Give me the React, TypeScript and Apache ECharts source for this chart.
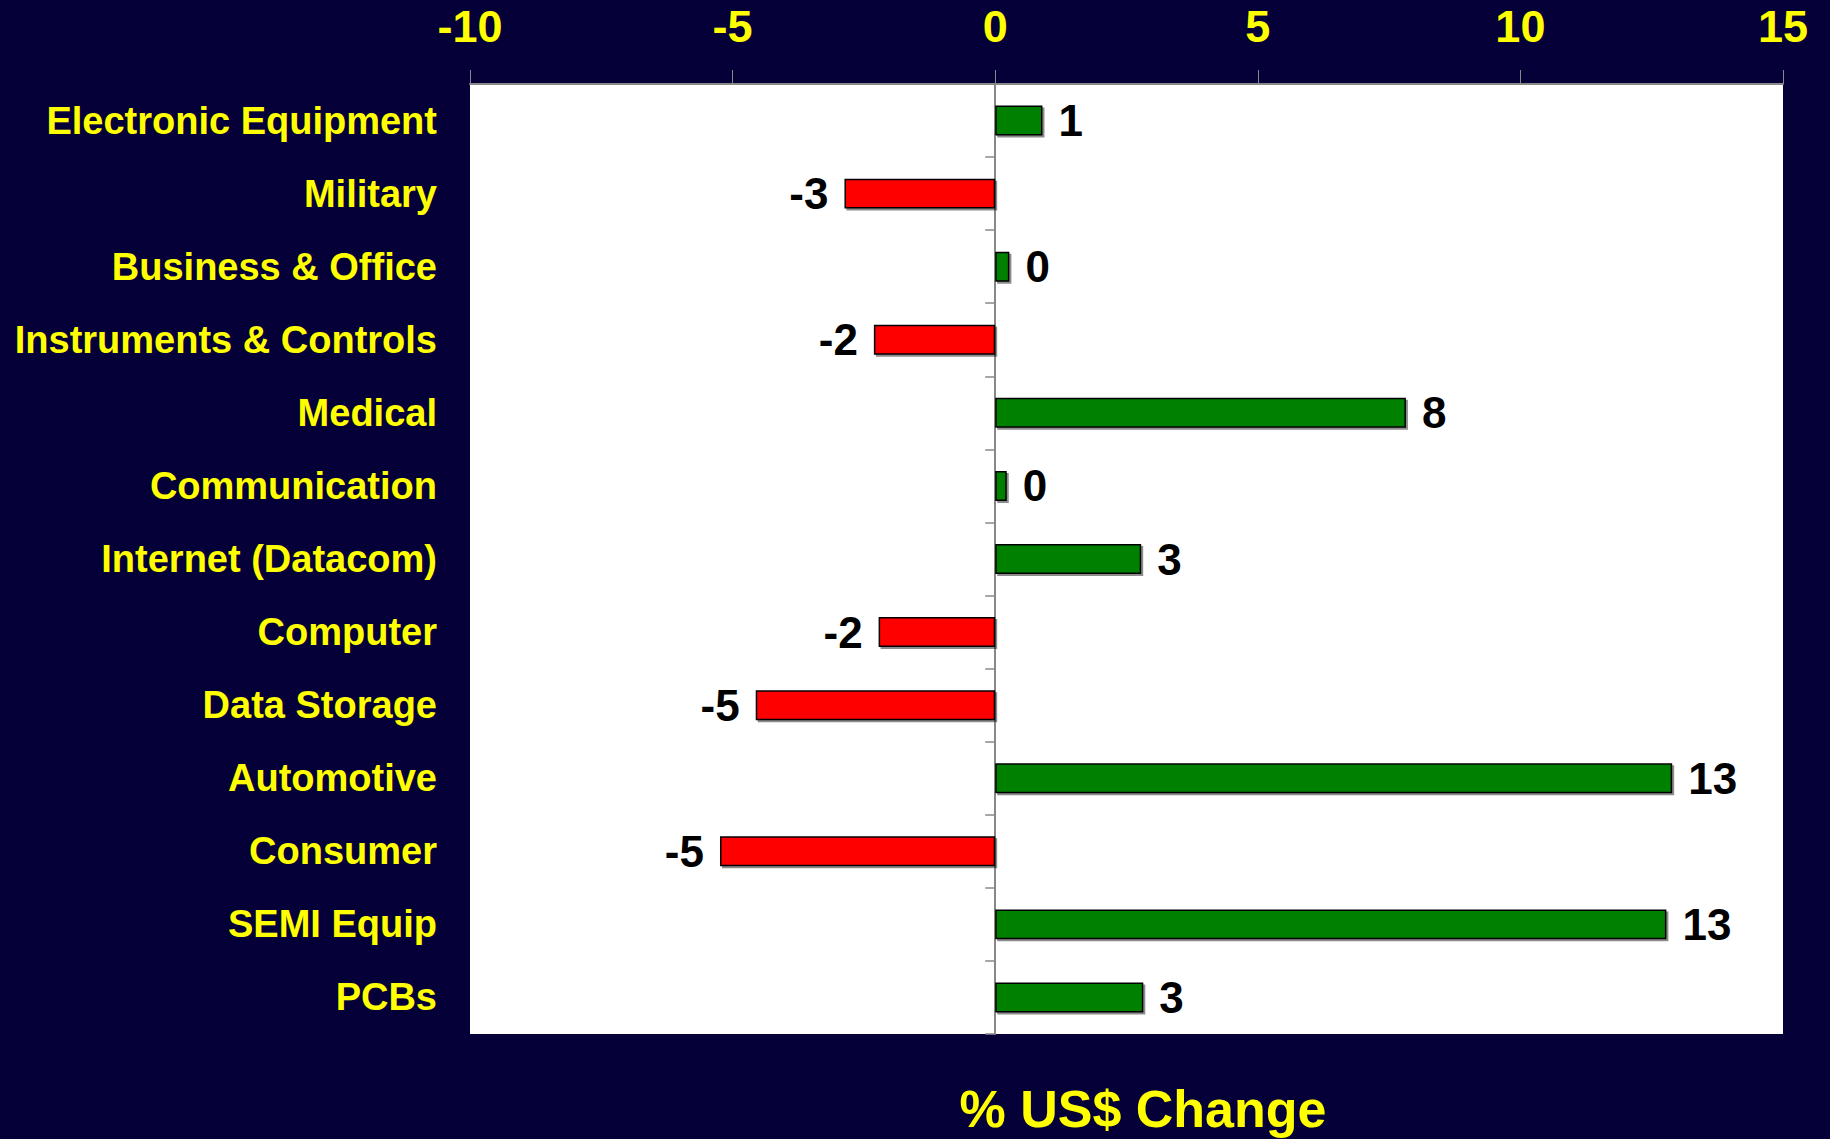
import React, { useEffect, useRef } from "react";
import * as echarts from "echarts";

const categories = [
  "Electronic Equipment",
  "Military",
  "Business & Office",
  "Instruments & Controls",
  "Medical",
  "Communication",
  "Internet (Datacom)",
  "Computer",
  "Data Storage",
  "Automotive",
  "Consumer",
  "SEMI Equip",
  "PCBs",
];

const values = [0.9, -2.87, 0.27, -2.31, 7.82, 0.22, 2.78, -2.22, -4.56, 12.89, -5.24, 12.78, 2.82];

const xTicks = { min: -10, max: 15, interval: 5 };
const axisTitle = "% US$ Change";

const BG = "#050038";
const YELLOW = "#FFFF00";
const FONT = "'Liberation Sans', Arial, sans-serif";

export default function App() {
  const ref = useRef<HTMLDivElement>(null);

  useEffect(() => {
    document.body.style.margin = "0";
    const chart = echarts.init(ref.current!, null, { renderer: "svg" });
    const option = {
      animation: false,
      backgroundColor: BG,
      grid: {
        left: 470,
        right: 47,
        top: 84,
        bottom: 105,
        show: true,
        backgroundColor: "#FFFFFF",
        borderWidth: 0,
      },
      xAxis: {
        type: "value",
        position: "top",
        min: xTicks.min,
        max: xTicks.max,
        interval: xTicks.interval,
        axisLine: { show: true, lineStyle: { color: "#888888", width: 2 } },
        axisTick: { show: true, length: 14, lineStyle: { color: "#888888", width: 1 } },
        splitLine: { show: false },
        axisLabel: {
          color: YELLOW,
          fontSize: 45,
          fontWeight: "bold",
          fontFamily: FONT,
          margin: 35,
        },
      },
      yAxis: [
        {
          type: "category",
          data: categories,
          inverse: true,
          position: "left",
          axisLine: { show: false, onZero: false },
          axisTick: { show: false },
          axisLabel: {
            color: YELLOW,
            fontSize: 38,
            fontWeight: "bold",
            fontFamily: FONT,
            margin: 33,
          },
        },
        {
          type: "category",
          data: categories,
          inverse: true,
          position: "left",
          axisLine: { show: true, onZero: true, lineStyle: { color: "#888888", width: 2 } },
          axisTick: { show: true, length: 10, lineStyle: { color: "#888888", width: 1.5 } },
          axisLabel: { show: false },
        },
      ],
      series: [
        {
          type: "bar",
          yAxisIndex: 0,
          barWidth: "41%",
          data: values.map((v) => ({
            value: v,
            itemStyle: {
              color: v >= 0 ? "#008000" : "#FF0000",
              borderColor: "#000000",
              borderWidth: 1.5,
              shadowColor: "rgba(0,0,0,0.45)",
              shadowOffsetX: 2,
              shadowOffsetY: 2,
              shadowBlur: 0,
            },
            label: {
              show: true,
              position: v >= 0 ? "right" : "left",
              distance: 16,
              formatter: () => String(Math.round(v)),
              color: "#000000",
              fontSize: 44,
              fontWeight: "bold",
              fontFamily: FONT,
            },
          })),
        },
      ],
      graphic: [
        {
          type: "text",
          x: 1143,
          y: 1109,
          style: {
            text: axisTitle,
            fill: YELLOW,
            fontSize: 52,
            fontWeight: "bold",
            fontFamily: FONT,
            align: "center",
            verticalAlign: "middle",
          },
        },
      ],
    };
    chart.setOption(option);
    return () => chart.dispose();
  }, []);

  return <div ref={ref} style={{ width: 1830, height: 1139 }} />;
}
